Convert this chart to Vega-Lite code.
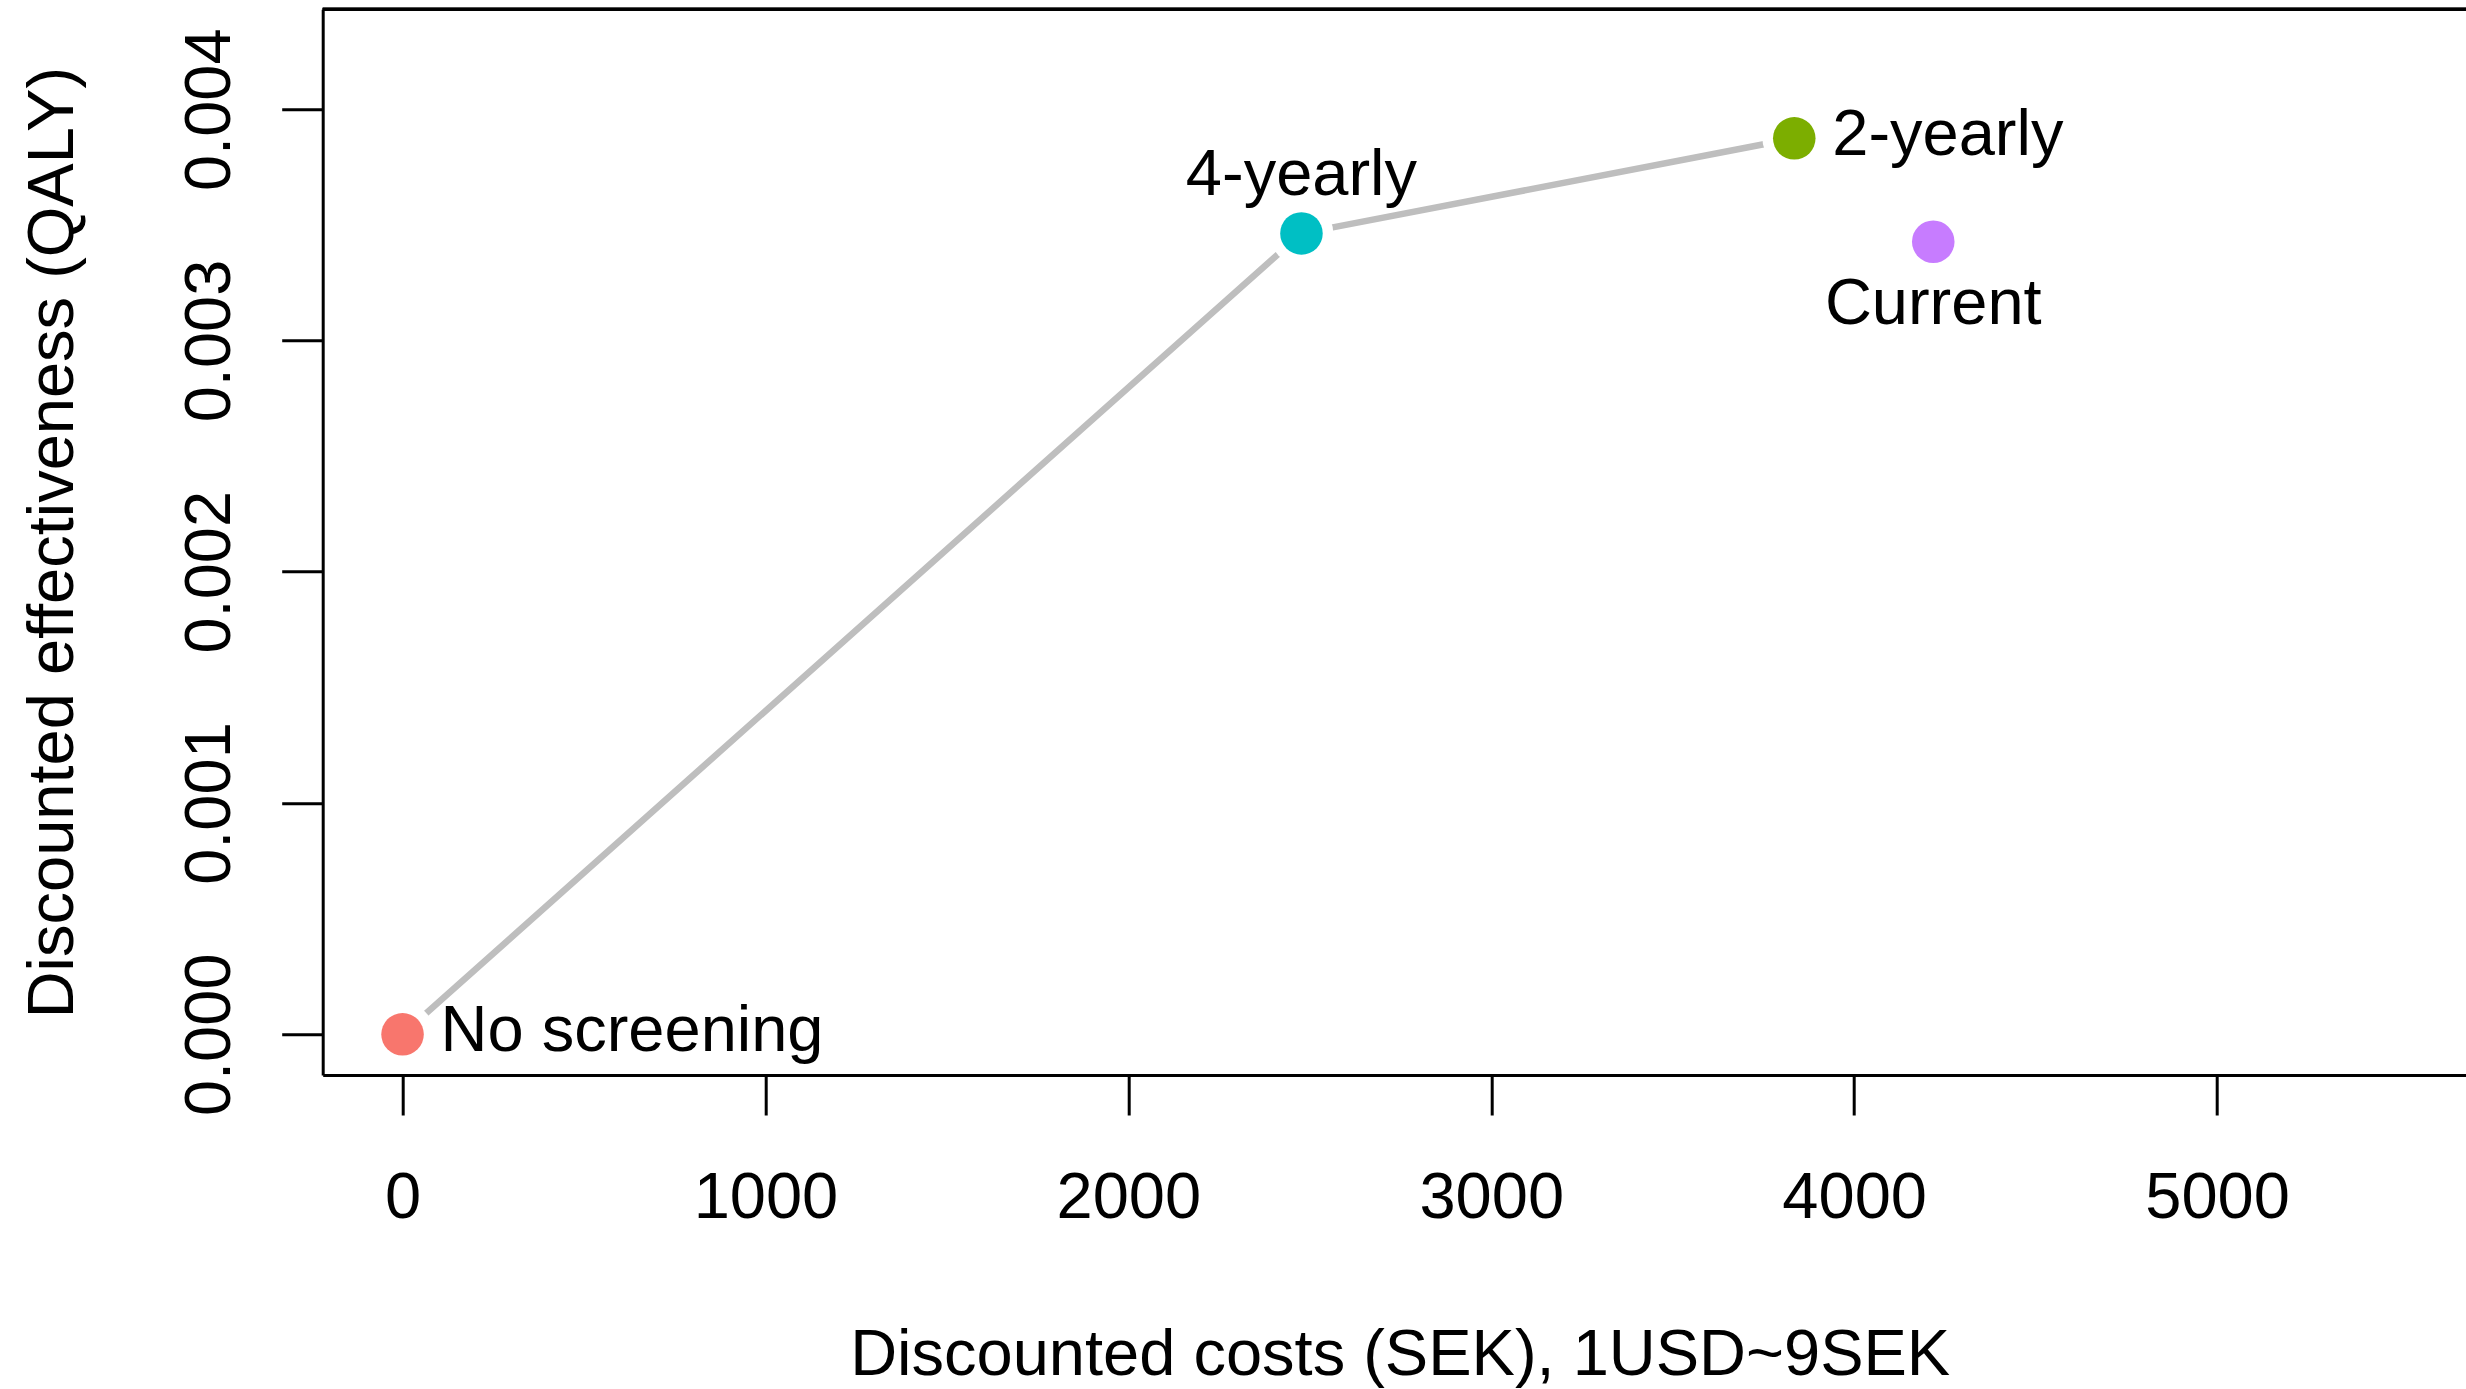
{
  "$schema": "https://vega.github.io/schema/vega-lite/v6.json",
  "width": 2143.3,
  "height": 1065.7,
  "autosize": {"type": "none"},
  "padding": {"left": 322.7, "top": 9.3, "right": 0, "bottom": 314},
  "background": "white",
  "config": {
    "view": {"stroke": null},
    "font": "Liberation Sans",
    "axis": {
      "grid": false,
      "domainColor": "black",
      "domainWidth": 3,
      "tickColor": "black",
      "tickWidth": 3,
      "labelColor": "black",
      "labelFontSize": 65,
      "labelFlush": false,
      "labelOverlap": false,
      "titleColor": "black",
      "titleFontSize": 65,
      "titleFontWeight": "normal"
    }
  },
  "data": {
    "values": [
      {"strategy": "No screening", "cost": 0, "effect": 0.0},
      {"strategy": "4-yearly", "cost": 2477, "effect": 0.003463},
      {"strategy": "2-yearly", "cost": 3835, "effect": 0.003874},
      {"strategy": "Current", "cost": 4218, "effect": 0.003427}
    ]
  },
  "encoding": {
    "x": {
      "field": "cost",
      "type": "quantitative",
      "scale": {"domain": [-220, 5686], "nice": false, "zero": false},
      "axis": {
        "orient": "bottom",
        "values": [0, 1000, 2000, 3000, 4000, 5000],
        "format": "d",
        "title": "Discounted costs (SEK), 1USD~9SEK",
        "tickSize": 40,
        "labelAlign": "center",
        "labelBaseline": "alphabetic",
        "labelPadding": 102,
        "titleBaseline": "alphabetic",
        "titleAlign": "center",
        "titleX": 1077,
        "titleY": 299.3
      }
    },
    "y": {
      "field": "effect",
      "type": "quantitative",
      "scale": {"domain": [-0.000176, 0.004432], "nice": false, "zero": false},
      "axis": {
        "orient": "left",
        "values": [0, 0.001, 0.002, 0.003, 0.004],
        "format": ".3f",
        "title": "Discounted effectiveness (QALY)",
        "tickSize": 41,
        "labelAngle": 270,
        "labelAlign": "center",
        "labelBaseline": "alphabetic",
        "labelPadding": 52.7,
        "titleAngle": 270,
        "titleAlign": "center",
        "titleBaseline": "alphabetic",
        "titleX": -250.7,
        "titleY": 532.85
      }
    }
  },
  "layer": [
    {
      "description": "upper frame line",
      "mark": {"type": "rule", "color": "black", "strokeWidth": 3},
      "encoding": {
        "x": {"datum": -220},
        "x2": {"datum": 5686},
        "y": {"datum": 0.004432}
      }
    },
    {
      "description": "efficiency frontier",
      "transform": [{"filter": "datum.strategy !== 'Current'"}],
      "mark": {"type": "line", "color": "#BEBEBE", "strokeWidth": 6.5},
      "encoding": {"order": {"field": "cost", "type": "quantitative"}}
    },
    {
      "description": "white gap around each point",
      "mark": {"type": "circle", "color": "white", "opacity": 1, "size": 4070}
    },
    {
      "mark": {"type": "circle", "opacity": 1, "size": 1810},
      "encoding": {
        "color": {
          "field": "strategy",
          "type": "nominal",
          "scale": {
            "domain": ["No screening", "4-yearly", "2-yearly", "Current"],
            "range": ["#F8766D", "#00BFC4", "#7CAE00", "#C77CFF"]
          },
          "legend": null
        }
      }
    },
    {
      "transform": [{"filter": "datum.strategy === 'No screening' || datum.strategy === '2-yearly'"}],
      "mark": {"type": "text", "align": "left", "baseline": "alphabetic", "dx": 38, "dy": 17, "fontSize": 65, "color": "black"},
      "encoding": {"text": {"field": "strategy"}}
    },
    {
      "transform": [{"filter": "datum.strategy === '4-yearly'"}],
      "mark": {"type": "text", "align": "center", "baseline": "alphabetic", "dy": -38, "fontSize": 65, "color": "black"},
      "encoding": {"text": {"field": "strategy"}}
    },
    {
      "transform": [{"filter": "datum.strategy === 'Current'"}],
      "mark": {"type": "text", "align": "center", "baseline": "alphabetic", "dy": 82, "fontSize": 65, "color": "black"},
      "encoding": {"text": {"field": "strategy"}}
    }
  ]
}
